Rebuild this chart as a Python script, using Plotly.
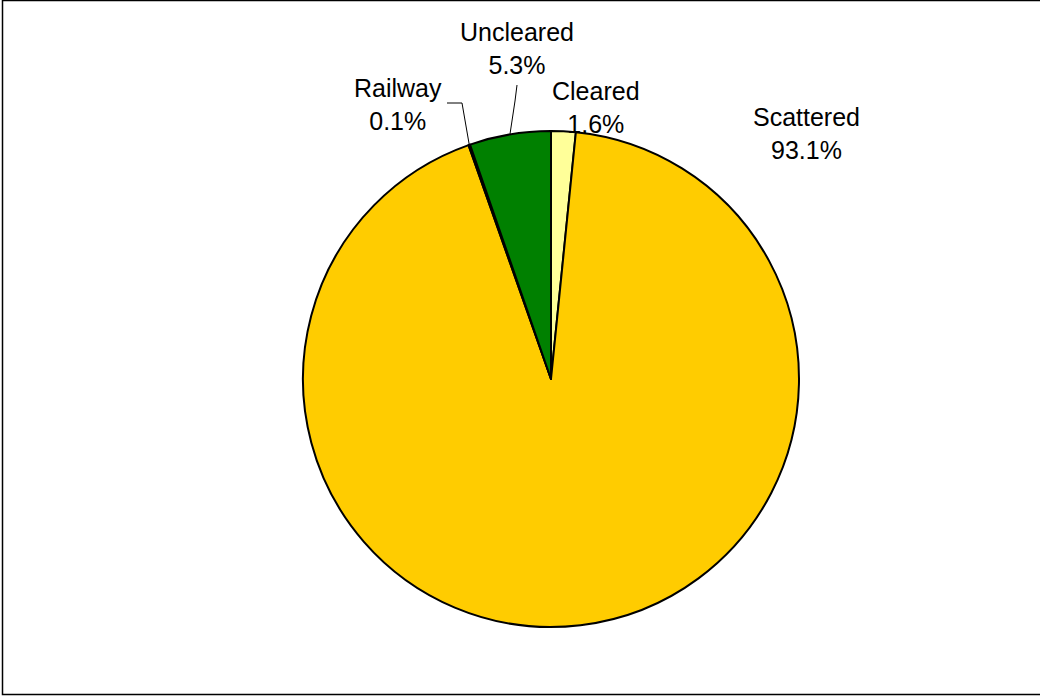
import math
import plotly.graph_objects as go

categories = ["Cleared", "Scattered", "Railway", "Uncleared"]
values = [1.6, 93.1, 0.1, 5.3]
colors = ["#FFFF99", "#FFCC00", "#993300", "#008000"]

W, H = 1040, 696
CX, CY, R = 551, 379, 248

def px(x):
    return x / W

def py(y):
    return 1 - y / H

fig = go.Figure(go.Pie(
    labels=categories,
    values=values,
    sort=False,
    direction="clockwise",
    rotation=0,
    marker=dict(colors=colors, line=dict(color="black", width=2)),
    textinfo="none",
    hoverinfo="label+percent",
    showlegend=False,
    domain=dict(x=[px(CX - R), px(CX + R)], y=[py(CY + R), py(CY - R)]),
))

# label positions (pixel centres)
label_pos = {
    "Cleared": (596, 107),
    "Scattered": (806, 133),
    "Railway": (398, 104),
    "Uncleared": (517, 48),
}
total = sum(values)
annotations = []
for cat, v in zip(categories, values):
    x, y = label_pos[cat]
    annotations.append(dict(
        x=px(x), y=py(y), xref="paper", yref="paper",
        text=f"{cat}<br>{v:.1f}%", showarrow=False,
        font=dict(family="Liberation Sans, Arial, sans-serif", size=25, color="black"),
        xanchor="center", yanchor="middle",
    ))

# leader lines from slice edge midpoints
elbows = {
    "Railway": [(447, 103), (462, 103)],
    "Uncleared": [(517, 85), (515, 101)],
}
shapes = []
cum = 0
for cat, v in zip(categories, values):
    mid = (cum + v / 2) / total * 2 * math.pi
    cum += v
    if cat in elbows:
        ex = CX + R * math.sin(mid)
        ey = CY - R * math.cos(mid)
        pts = elbows[cat] + [(ex, ey)]
        path = "M " + " L ".join(f"{px(a)},{py(b)}" for a, b in pts)
        shapes.append(dict(type="path", xref="paper", yref="paper", path=path,
                           line=dict(color="black", width=1)))

shapes.append(dict(type="rect", xref="paper", yref="paper",
                   x0=px(2.5), x1=px(1045), y0=py(694.5), y1=py(0.5),
                   line=dict(color="black", width=1.5), fillcolor="rgba(0,0,0,0)"))

fig.update_layout(
    width=W, height=H,
    margin=dict(l=0, r=0, t=0, b=0),
    paper_bgcolor="white", plot_bgcolor="white",
    annotations=annotations,
    shapes=shapes,
)

fig.write_html("out.html",
               config={"displayModeBar": False},
               post_script="document.body.style.margin='0';document.body.style.overflow='hidden';")
